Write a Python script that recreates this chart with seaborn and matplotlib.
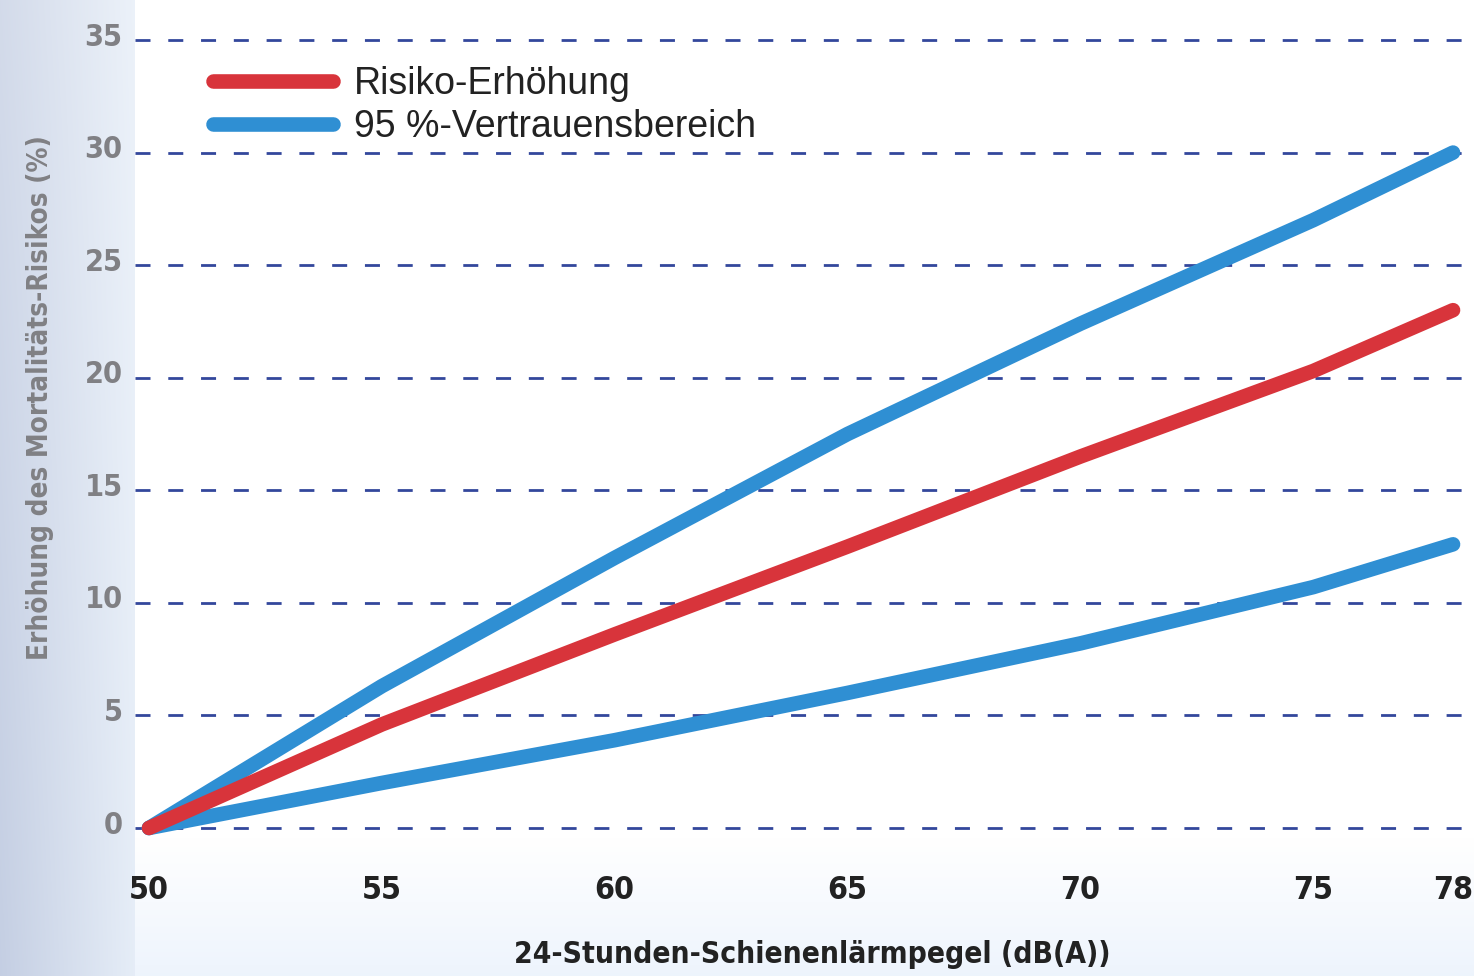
import numpy as np
import pandas as pd
import matplotlib
matplotlib.use("Agg")
import matplotlib.pyplot as plt
import matplotlib.transforms as mtransforms
from matplotlib.lines import Line2D
import seaborn as sns

# Noise level (dB(A)) and increase of mortality risk (%)
pegel = [50, 55, 60, 65, 70, 75, 78]
risiko = [0.0, 4.6, 8.6, 12.5, 16.5, 20.3, 23.0]
ki_oben = [0.0, 6.3, 12.0, 17.5, 22.4, 27.0, 30.0]
ki_unten = [0.0, 2.0, 3.9, 6.0, 8.2, 10.7, 12.6]

x_ticks = [50, 55, 60, 65, 70, 75, 78]
y_ticks = [0, 5, 10, 15, 20, 25, 30, 35]

label_risiko = "Risiko-Erhöhung"
label_ki = "95 %-Vertrauensbereich"
x_label = "24-Stunden-Schienenlärmpegel (dB(A))"
y_label = "Erhöhung des Mortalitäts-Risikos (%)"

RED = "#d8343b"
BLUE = "#2f8fd3"
GRID = "#33479c"

sns.set_theme(style="white")
plt.rcParams["font.family"] = ["Liberation Sans", "DejaVu Sans"]
cond = dict(family="DejaVu Sans", stretch="condensed", weight="bold")

W, H = 1474, 976
fig = plt.figure(figsize=(W / 100, H / 100), dpi=100)

# background: blue-grey band on the left, pale blue towards the bottom
bg_ax = fig.add_axes([0, 0, 1, 1], zorder=-10)
xx = np.linspace(0, 1, W)[None, :]
yy = np.linspace(0, 1, H)[:, None]
strip_w = 135 / W
in_strip = (xx < strip_w).astype(float) * np.ones_like(yy)
t = np.clip(xx / strip_w, 0, 1) * np.ones_like(yy)
c0 = np.array([0.77, 0.81, 0.89])
c1 = np.array([0.90, 0.93, 0.97])
strip_col = c0 * (1 - t[..., None]) + c1 * t[..., None]
# the band gets a little lighter towards the top
strip_col = strip_col + (1 - strip_col) * (0.25 * (1 - yy))[..., None]
img = np.ones((H, W, 3))
img = img * (1 - in_strip[..., None]) + strip_col * in_strip[..., None]
bottom = np.clip((yy - 0.86) / 0.14, 0, 1) * (1 - in_strip)
tint = np.array([0.92, 0.95, 0.99])
fade = (bottom * 0.85)[..., None]
img = img * (1 - fade) + tint * fade
bg_ax.imshow(img, aspect="auto", extent=[0, 1, 0, 1], origin="upper")
bg_ax.set_axis_off()

ax = fig.add_axes([135 / W, 1 - 828 / H, 1 - 135 / W, (828 - 40) / H])
ax.set_facecolor("none")

df = pd.DataFrame({"pegel": pegel, "risiko": risiko,
                   "oben": ki_oben, "unten": ki_unten})

for col, color in [("unten", BLUE), ("oben", BLUE), ("risiko", RED)]:
    sns.lineplot(data=df, x="pegel", y=col, ax=ax, color=color,
                 linewidth=10.5, solid_capstyle="round",
                 solid_joinstyle="round", clip_on=False,
                 zorder=5, legend=False)

for v in y_ticks:
    ax.axhline(v, color=GRID, lw=2.0, ls=(0, (5.4, 6.4)), zorder=1,
               clip_on=False)

ax.set_xlim(49.7, 78.45)
ax.set_ylim(0, 35)
ax.set_xticks(x_ticks)
ax.set_yticks(y_ticks)
for s in ax.spines.values():
    s.set_visible(False)
ax.tick_params(axis="both", length=0)
ax.tick_params(axis="x", pad=34, labelcolor="#222222")
ax.tick_params(axis="y", pad=9, labelcolor="#808084")
for lab in ax.get_xticklabels():
    lab.set(**cond)
    lab.set_fontsize(23)
lift = mtransforms.ScaledTranslation(0, 6 / 100, fig.dpi_scale_trans)
for lab in ax.get_yticklabels():
    lab.set(**cond)
    lab.set_fontsize(22)
    lab.set_transform(lab.get_transform() + lift)

ax.set_xlabel(x_label, fontsize=21.5, color="#222222", **cond)
ax.xaxis.set_label_coords((812 - 135) / (W - 135), -(940 - 828) / (828 - 40))
ax.set_ylabel(y_label, fontsize=20, color="#808084", **cond)
ax.yaxis.set_label_coords(-(135 - 54) / (W - 135), (828 - 398) / (828 - 40))

handles = [Line2D([], [], color=RED, lw=10.5, solid_capstyle="round"),
           Line2D([], [], color=BLUE, lw=10.5, solid_capstyle="round")]
ax.legend(handles, [label_risiko, label_ki], loc="upper left",
          bbox_to_anchor=((213 - 135) / (W - 135), 1 - (66 - 40) / (828 - 40)),
          frameon=False, fontsize=27, handlelength=3.2, handletextpad=0.55,
          labelspacing=0.19, borderaxespad=0, borderpad=0,
          labelcolor="#222222")

fig.savefig("out.png", dpi=100)
